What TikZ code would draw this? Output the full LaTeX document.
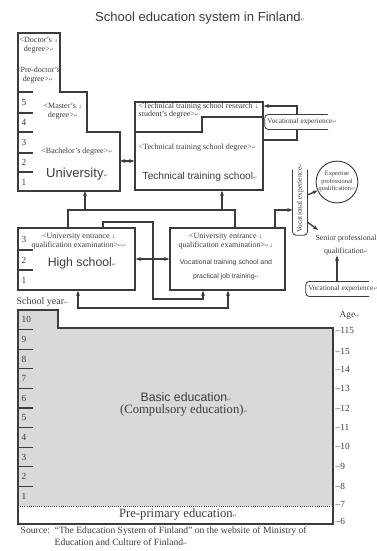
\documentclass[tikz,border=0pt]{standalone}
\usepackage{fontspec}
\setmainfont{Liberation Serif}
\setsansfont{Liberation Sans}
\newfontfamily\symfont{DejaVu Sans}
\usetikzlibrary{arrows.meta,calc}

\definecolor{edline}{HTML}{3C3C3C}
\definecolor{basicgray}{HTML}{D8D9DB}
\newcommand\fsz[2]{\fontsize{#1}{#2}\selectfont}
\newcommand\pmk{{\color{black!55}\symfont\fsz{3.8}{4}↵}}
\newcommand\dmk{{\color{black!55}\symfont\fsz{3.8}{4}↓}}

\tikzset{tinylbl/.style = {font=\fsz{6}{6.3}, align=center, inner sep=0pt},
         biglbl/.style = {font=\sffamily\fsz{#1}{#1}, inner sep=0pt},
         biglbl/.default=9,
         yearno/.style = {font=\fsz{7}{7}, anchor=west, inner sep=0pt},
         agelbl/.style = {font=\fsz{7}{7}, anchor=west, inner sep=0pt},
         vexp/.style = {font=\fsz{5.5}{6}, fill=white, inner xsep=1.5pt, inner ysep=2.6pt},
         box/.style = {draw, rectangle, inner sep=0pt}
        }

\begin{document}
\begin{tikzpicture}[x=0.75pt, y=-0.75pt, line width=1pt, color=edline,
                    >={Stealth[length=4pt,width=3pt]}]
\useasboundingbox (0,0) rectangle (377,551);

\node[biglbl=9.8] at (200,18) (title) {School education system in Finland\pmk};

% university
\draw (18,33) -- (60,33) -- (60,92) -- (87,92) -- (87,132) -- (120,132) -- (120,191) -- (18,191) -- cycle;
\draw (18,92) -- (33,92);
\draw (18,113) -- (33,113);
\draw (18,132) -- (33,132);
\draw (18,153) -- (33,153);
\draw (18,172) -- (33,172);
\node[yearno] at (21,102) (u5) {5};
\node[yearno] at (21,122) (u4) {4};
\node[yearno] at (21,142) (u3) {3};
\node[yearno] at (21,162) (u2) {2};
\node[yearno] at (21,182) (u1) {1};
\node[tinylbl] at (39,45) (doc) {<Doctor's \dmk\\degree>\pmk};
\node[tinylbl] at (38,75) (predoc) {<Pre-doctor's\\degree>\pmk};
\node[tinylbl] at (63,111) (mast) {<Master's \dmk\\degree>\pmk};
\node[tinylbl] at (77,152) (bach) {<Bachelor's degree>\pmk};
\node[biglbl=9.8] at (77,174) (univ) {University\pmk};
\coordinate (uniE) at (120,161);
\coordinate (uniS) at (85,191);

% technical training school
\node[box, minimum width=96pt, minimum height=66pt] at (199,146) (tech) {};
\draw (tech.west |- 0,132) -- (202,132) -- (202,117) -- (tech.east |- 0,117);
\node[tinylbl, align=left, anchor=west, font=\fsz{6}{6}] at (138,111) (tres) {<Technical training school research \dmk\\student's degree>\pmk};
\node[tinylbl, anchor=west] at (138,148) (tdeg) {<Technical training school degree>\pmk};
\node[biglbl=7.6] at (200,177) (tname) {Technical training school\pmk};

% vocational experience loop
\draw[->] (tech.east |- 0,140) -| (297,106) -- (tech.east |- 0,106);
\node[vexp] at (302,122) (vexp1) {Vocational experience\pmk};
\draw[rounded corners=2.5pt, line width=0.6pt] ($(vexp1.north east)!0.15!(vexp1.north west)$) -- (vexp1.north west) -- (vexp1.south west) -- ($(vexp1.south east)!0.15!(vexp1.south west)$);

% high school
\node[box, minimum width=87.75pt, minimum height=46.5pt] at (76.5,259) (hs) {};
\draw (18,250) -- (33,250);
\draw (18,270) -- (33,270);
\node[yearno] at (21,239) (h3) {3};
\node[yearno] at (21,260) (h2) {2};
\node[yearno] at (21,280) (h1) {1};
\node[tinylbl] at (79,241) (hsexam) {<University entrance \dmk\\qualification examination>\pmk\pmk};
\node[biglbl=9.2] at (82,263) (hsname) {High school\pmk};

% vocational training school
\node[box, minimum width=86.25pt, minimum height=46.5pt] at (227.5,259) (voc) {};
\node[tinylbl] at (226,241) (vocexam) {<University entrance \dmk\\qualification examination>\pmk\dmk};
\node[tinylbl, font=\sffamily\fsz{5.2}{10.5}] at (226,269.5) (vocname) {Vocational training school and\\practical job training\pmk};

% links between schools
\draw[<->] (uniE) -- (uniE -| tech.west);
\draw[<->] (hs.east) -- (voc.west);
\coordinate (busA) at (68,210);
\coordinate (busB) at (235,210);
\draw (busA |- hs.north) -- (busA) -- (busB) -- (busB |- voc.north);
\draw[->] (uniS |- busA) -- (uniS);
\draw[->] (busA -| 222,0) -- (tech.south -| 222,0);
\coordinate (loopA) at (153,222);
\coordinate (loopB) at (203,299);
\draw[->] (hs.north -| 103,0) |- (loopA) |- (loopB) -- (voc.south -| loopB);
\coordinate (busC) at (78,308);
\draw[<->] (hs.south -| busC) -- (busC) -| (voc.south -| 228,0);

% vocational experience and qualifications
\node[vexp, rotate=90] at (300,198) (vv) {Vocational experience\pmk};
\draw[rounded corners=2.5pt, line width=0.6pt] ($(vv.north east)!0.12!(vv.north west)$) -- (vv.north west) -- (vv.south west) -- ($(vv.south east)!0.12!(vv.south west)$);
\draw[->] (voc.north -| 275,0) |- (vv.north |- 0,210);
\node[draw, circle, minimum size=27pt, inner sep=0pt, font=\fsz{4.8}{5.6}, align=center, line width=0.7pt] at (337,182) (expert) {Expertise\\professional\\qualification\pmk};
\draw[->] (vv.south |- 0,195) -- (expert);
\node[tinylbl, font=\fsz{5.9}{9.5}] at (346,245) (senior) {Senior professional\\qualification\pmk};
\coordinate (senA) at (318,230);
\draw[->] (vv.south |- 0,222) -- (senA);
\node[vexp] at (343,289) (vexp3) {Vocational experience\pmk};
\draw[rounded corners=2.5pt, line width=0.6pt] ($(vexp3.north east)!0.15!(vexp3.north west)$) -- (vexp3.north west) -- (vexp3.south west) -- ($(vexp3.south east)!0.15!(vexp3.south west)$);
\draw[->] (vexp3.north -| 337,0) -- (senior.south -| 337,0);

% basic education
\node[font=\fsz{7.5}{8}, anchor=west, inner sep=0pt] at (16,302) (syear) {School year\pmk};
\node[font=\fsz{7}{8}, anchor=west, inner sep=0pt] at (339,315) (agetitle) {Age\pmk};
\fill[basicgray] (18,310) -- (58,310) -- (58,328) -- (333,328) -- (333,506) -- (18,506) -- cycle;
\draw (18,310) -- (58,310) -- (58,328) -- (333,328) -- (333,524) -- (18,524) -- cycle;
\draw[densely dotted, line width=0.6pt] (18,506) -- (333,506);
\foreach \k in {1,...,9}
  \draw (18,{506-19.6*\k}) -- (33,{506-19.6*\k});
\foreach \k in {1,...,10}
  \node[yearno] at (21,{506-19.6*(\k-0.5)}) (b\k) {\k};
\foreach \y/\a in {330/115, 351/15, 369/14, 388/13, 408/12, 427/11, 446/10, 466/9, 486/8, 504/7, 521/6}
  \node[agelbl] at (335,\y) (age\a) {–\a};
\node[biglbl=9.2] at (186,397) (basic) {Basic education\pmk};
\node[font=\fsz{9.5}{10}, inner sep=0pt] at (184,410) (compul) {(Compulsory education)\pmk};
\node[font=\fsz{9.5}{10}, inner sep=0pt] at (178,514) (preprim) {Pre-primary education\pmk};

% source
\node[font=\fsz{7.2}{8}, anchor=west, inner sep=0pt] at (20,531) (src1) {Source:\ \ ``The Education System of Finland'' on the website of Ministry of};
\node[font=\fsz{7.2}{8}, anchor=west, inner sep=0pt] at (54,542) (src2) {Education and Culture of Finland\pmk};
\end{tikzpicture}
\end{document}
